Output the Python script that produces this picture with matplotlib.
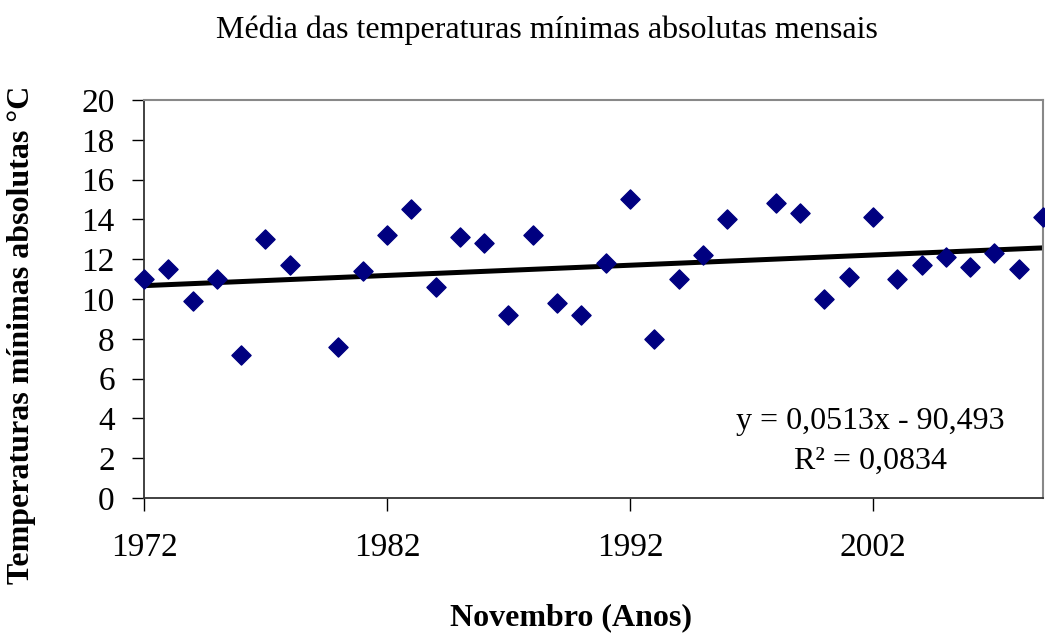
import numpy as np
import matplotlib.pyplot as plt

plt.rcParams['font.family'] = ['Liberation Serif', 'DejaVu Serif']

# Novembro: média das temperaturas mínimas absolutas (°C); 1979 e 1997 sem dados
anos = [1972, 1973, 1974, 1975, 1976, 1977, 1978, 1980, 1981, 1982,
        1983, 1984, 1985, 1986, 1987, 1988, 1989, 1990, 1991, 1992,
        1993, 1994, 1995, 1996, 1998, 1999, 2000, 2001, 2002, 2003,
        2004, 2005, 2006, 2007, 2008, 2009]
temp_min = [11.0, 11.5, 9.9, 11.0, 7.2, 13.0, 11.7, 7.6, 11.4, 13.2,
            14.5, 10.6, 13.1, 12.8, 9.2, 13.2, 9.8, 9.2, 11.8, 15.0,
            8.0, 11.0, 12.2, 14.0, 14.8, 14.3, 10.0, 11.1, 14.1, 11.0,
            11.7, 12.1, 11.6, 12.3, 11.5, 14.1]

# tendência linear (Excel)
a, b = 0.0513, -90.493
r2 = 0.0834

fig = plt.figure(figsize=(10.45, 6.34), dpi=100)
ax = fig.add_axes([0.1378, 0.2145, 0.8603, 0.6278])

ax.scatter(anos, temp_min, marker='D', s=95, color='#000080', zorder=3, clip_on=False)
xt = np.array([1972, 2009])
ax.plot(xt, a * xt + b, color='black', linewidth=3.6, zorder=2)

ax.set_xlim(1972, 2009)
ax.set_ylim(0, 20)
ax.set_xticks([1972, 1982, 1992, 2002])
ax.set_yticks(range(0, 21, 2))
ax.tick_params(axis='x', direction='out', length=9, width=1, pad=16, labelsize=24)
ax.tick_params(axis='y', direction='out', length=9, width=1, pad=12, labelsize=24)

for s in ['top', 'right']:
    ax.spines[s].set_color('#888888')
    ax.spines[s].set_linewidth(1.5)
for s in ['left', 'bottom']:
    ax.spines[s].set_color('#333333')
    ax.spines[s].set_linewidth(1.3)

fig.text(0.523, 0.953, 'Média das temperaturas mínimas absolutas mensais',
         ha='center', va='center', fontsize=23)
fig.text(0.021, 0.472, 'Temperaturas mínimas absolutas °C', rotation=90,
         ha='center', va='center', fontsize=23, fontweight='bold')
fig.text(0.546, 0.025, 'Novembro (Anos)', ha='center', va='center',
         fontsize=23, fontweight='bold')

ax.text(0.808, 0.193, f'y = {a:.4f}x - {abs(b):.3f}'.replace('.', ','),
        transform=ax.transAxes, ha='center', va='center', fontsize=23)
ax.text(0.808, 0.093, f'R² = {r2:.4f}'.replace('.', ','),
        transform=ax.transAxes, ha='center', va='center', fontsize=23)

fig.savefig('out.png', dpi=100)
